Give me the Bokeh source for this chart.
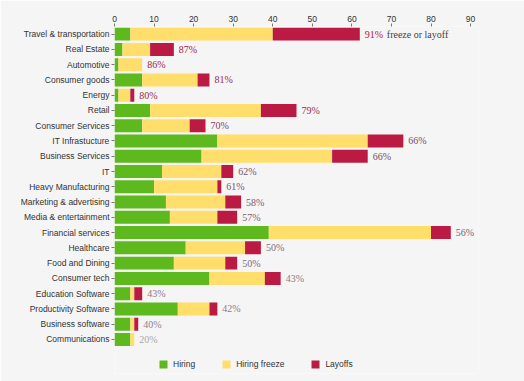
from bokeh.plotting import figure
from bokeh.models import ColumnDataSource, Range1d, FixedTicker
from bokeh.core.properties import value
from bokeh.embed import file_html
from bokeh.resources import INLINE

sectors = ["Travel & transportation", "Real Estate", "Automotive", "Consumer goods", "Energy",
           "Retail", "Consumer Services", "IT Infrastucture", "Business Services", "IT",
           "Heavy Manufacturing", "Marketing & advertising", "Media & entertainment",
           "Financial services", "Healthcare", "Food and Dining", "Consumer tech",
           "Education Software", "Productivity Software", "Business software", "Communications"]
hiring = [4, 2, 1, 7, 1, 9, 7, 26, 22, 12, 10, 13, 14, 39, 18, 15, 24, 4, 16, 4, 4]
freeze = [36, 7, 6, 14, 3, 28, 12, 38, 33, 15, 16, 15, 12, 41, 15, 13, 14, 1, 8, 1, 1]
layoffs = [22, 6, 0, 3, 1, 9, 4, 9, 9, 3, 1, 4, 5, 5, 4, 3, 4, 2, 2, 1, 0]
pct = [91, 87, 86, 81, 80, 79, 70, 66, 66, 62, 61, 58, 57, 56, 50, 50, 43, 43, 42, 40, 20]
x_ticks = [0, 10, 20, 30, 40, 50, 60, 70, 80, 90]

GREEN, YELLOW, RED = "#5db91e", "#ffde6b", "#bb1b43"
BG = "#f5f5f5"


def hex2rgb(h):
    return tuple(int(h[i:i + 2], 16) for i in (1, 3, 5))


def label_color(v):
    stops = [(20, "#a9a9a9"), (56, "#7d5f74"), (66, "#7a4a64"), (91, "#b0183f")]
    for (v0, c0), (v1, c1) in zip(stops, stops[1:]):
        if v0 <= v <= v1:
            t = (v - v0) / (v1 - v0)
            a, b = hex2rgb(c0), hex2rgb(c1)
            return "#%02x%02x%02x" % tuple(int(round(a[k] + t * (b[k] - a[k]))) for k in range(3))
    return stops[-1][1]


ys = list(range(len(sectors)))
totals = [h + f + l for h, f, l in zip(hiring, freeze, layoffs)]
src = ColumnDataSource(dict(y=ys, hiring=hiring, freeze=freeze, layoffs=layoffs,
                            total=totals, lab=["%d%%" % v for v in pct],
                            col=[label_color(v) for v in pct]))

p = figure(output_backend="svg", toolbar_location=None,
           frame_width=364, frame_height=347,
           min_border_left=114, min_border_right=46, min_border_top=26, min_border_bottom=8,
           x_range=Range1d(0, 92), y_range=Range1d(22.23, -0.5),
           x_axis_location="above", background_fill_color=BG, border_fill_color=BG)
p.outline_line_color = None
p.grid.visible = False

p.hbar_stack(["hiring", "freeze", "layoffs"], y="y", height=0.85, color=[GREEN, YELLOW, RED],
             line_color=None, source=src, legend_label=["Hiring", "Hiring freeze", "Layoffs"])

p.text(x="total", y="y", text="lab", text_color="col", source=src, x_offset=5,
       text_baseline="middle", text_font=value("Liberation Serif"), text_font_size="10px")
p.text(x=[totals[0]], y=[0], text=["freeze or layoff"], x_offset=27, text_color="#444444",
       text_baseline="middle", text_font=value("Liberation Serif"), text_font_size="10px")

xa = p.xaxis[0]
xa.ticker = FixedTicker(ticks=x_ticks)
xa.axis_line_color = None
xa.major_tick_out = 3
xa.major_tick_in = 0
xa.minor_tick_line_color = None
xa.major_tick_line_color = "#777777"
xa.major_label_text_font = "Liberation Sans"
xa.major_label_text_font_size = "8.5px"
xa.major_label_text_color = "#333333"
xa.major_label_standoff = 2

ya = p.yaxis[0]
ya.ticker = FixedTicker(ticks=ys)
ya.major_label_overrides = {i: s for i, s in zip(ys, sectors)}
ya.axis_line_color = None
ya.major_tick_out = 3
ya.major_tick_in = 0
ya.minor_tick_line_color = None
ya.major_tick_line_color = "#777777"
ya.major_label_text_font = "Liberation Sans"
ya.major_label_text_font_size = "8.5px"
ya.major_label_text_color = "#333333"
ya.major_label_standoff = 2

lg = p.legend[0]
lg.orientation = "horizontal"
lg.location = (44, 4)
lg.padding = 0
lg.margin = 0
lg.spacing = 26
lg.glyph_width = 10
lg.glyph_height = 10
lg.label_height = 10
lg.label_standoff = 5
lg.border_line_color = None
lg.background_fill_alpha = 0
lg.label_text_font = "Liberation Sans"
lg.label_text_font_size = "8.5px"
lg.label_text_color = "#333333"

open("out.html", "w").write(file_html(p, INLINE))
